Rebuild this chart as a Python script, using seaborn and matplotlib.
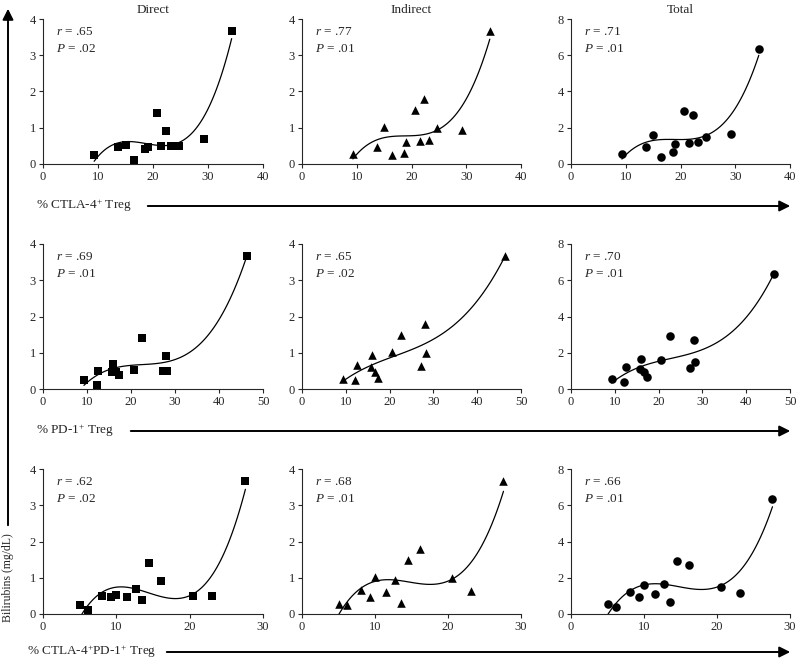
import numpy as np
import pandas as pd
import seaborn as sns
import matplotlib
matplotlib.use("Agg")
import matplotlib.pyplot as plt
from matplotlib.patches import FancyArrowPatch

# ---- data (per patient) ----
ctla4 = [9.3, 13.7, 15.0, 16.5, 18.6, 19.0, 20.7, 21.5, 22.3, 23.2, 24.7, 29.2, 34.3]
pd1 = [9.3, 16.7, 20.6, 12.2, 17.3, 15.7, 22.5, 27.2, 28.0, 12.5, 28.2, 16.0, 46.3]
ctla4_pd1 = [5.0, 9.3, 10.0, 6.2, 13.5, 11.5, 14.5, 23.1, 16.1, 8.1, 20.5, 12.7, 27.6]
direct = [0.25, 0.47, 0.52, 0.11, 0.40, 0.48, 1.40, 0.50, 0.90, 0.51, 0.50, 0.70, 3.67]
indirect = [0.27, 0.48, 1.03, 0.25, 0.29, 0.61, 1.48, 0.63, 1.79, 0.65, 0.99, 0.93, 3.66]
total = [0.53, 0.95, 1.58, 0.37, 0.68, 1.10, 2.90, 1.16, 2.70, 1.19, 1.50, 1.63, 6.37]

col_titles = ["Direct", "Indirect", "Total"]
row_labels = ["% CTLA-4$^{+}$ Treg", "% PD-1$^{+}$ Treg", "% CTLA-4$^{+}$PD-1$^{+}$ Treg"]
r_vals = [[".65", ".77", ".71"], [".69", ".65", ".70"], [".62", ".68", ".66"]]
p_vals = [[".02", ".01", ".01"], [".01", ".02", ".01"], [".02", ".01", ".01"]]
x_max = [40, 50, 30]
x_step = [10, 10, 10]
y_max = [4, 4, 8]
y_step = [1, 1, 2]
y_label = "Bilirubins (mg/dL)"

df = pd.DataFrame({"ctla4": ctla4, "pd1": pd1, "ctla4_pd1": ctla4_pd1,
                   "direct": direct, "indirect": indirect, "total": total})
xcols = ["ctla4", "pd1", "ctla4_pd1"]
ycols = ["direct", "indirect", "total"]
markers = ["s", "^", "o"]
msizes = [36, 38, 38]

sns.set_style("ticks")
plt.rcParams["font.family"] = ["Liberation Serif", "DejaVu Serif"]
plt.rcParams["mathtext.fontset"] = "custom"
plt.rcParams["mathtext.rm"] = "Liberation Serif"
plt.rcParams["mathtext.it"] = "Liberation Serif:italic"

W, H = 797, 662
fig = plt.figure(figsize=(W / 100, H / 100), dpi=100)

col_px = [(43, 263), (302, 521), (571, 790)]
row_px = [(19, 164), (244, 389), (469, 614)]

for i in range(3):
    for j in range(3):
        x0, x1 = col_px[j]
        yt, yb = row_px[i]
        ax = fig.add_axes([x0 / W, 1 - yb / H, (x1 - x0) / W, (yb - yt) / H])
        sns.regplot(data=df, x=xcols[i], y=ycols[j], order=3, ci=None, ax=ax,
                    marker=markers[j], color="black",
                    scatter_kws={"s": msizes[j], "linewidths": 0, "zorder": 3,
                                 "alpha": 1.0},
                    line_kws={"lw": 0.9, "color": "black"})
        ax.set_xlim(0, x_max[i])
        ax.set_ylim(0, y_max[j])
        ax.set_xticks(np.arange(0, x_max[i] + 1, x_step[i]))
        ax.set_yticks(np.arange(0, y_max[j] + 0.01, y_step[j]))
        ax.set_xlabel("")
        ax.set_ylabel("")
        sns.despine(ax=ax)
        for s in ["left", "bottom"]:
            ax.spines[s].set_linewidth(0.8)
        ax.tick_params(direction="out", length=3, width=0.8, labelsize=9, pad=2)
        ax.text(0.06, 0.91, "$r$ = " + r_vals[i][j], transform=ax.transAxes,
                fontsize=9.5, va="center", ha="left")
        ax.text(0.06, 0.79, "$P$ = " + p_vals[i][j], transform=ax.transAxes,
                fontsize=9.5, va="center", ha="left")
        if i == 0:
            ax.set_title(col_titles[j], fontsize=9.5, pad=4)
        for art in ax.collections:
            art.set_clip_on(False)

# horizontal arrows with labels
arrow_rows = [(206, 36, 145), (431, 36, 128), (652, 27, 164)]
for k, (yp, tx, ax0) in enumerate(arrow_rows):
    fig.text(tx / W, 1 - yp / H, row_labels[k], fontsize=9.5, va="center", ha="left")
    arr = FancyArrowPatch((ax0 / W, 1 - yp / H), (793 / W, 1 - yp / H),
                          transform=fig.transFigure, arrowstyle="-|>",
                          mutation_scale=16, lw=1.4, color="black")
    fig.add_artist(arr)

# vertical arrow with label
fig.text(8 / W, 1 - 578 / H, y_label, rotation=90, fontsize=8.5,
         va="center", ha="center")
varr = FancyArrowPatch((8 / W, 1 - 528 / H), (8 / W, 1 - 6 / H),
                       transform=fig.transFigure, arrowstyle="-|>",
                       mutation_scale=16, lw=1.4, color="black")
fig.add_artist(varr)

fig.savefig("out.png", dpi=100, facecolor="white")
